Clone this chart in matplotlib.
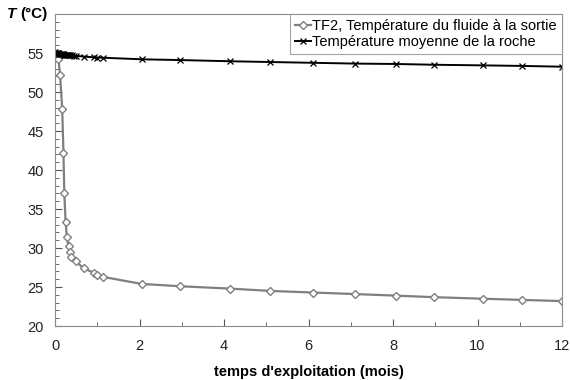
import matplotlib
matplotlib.use("Agg")
import matplotlib.pyplot as plt
from matplotlib.ticker import MultipleLocator

plt.rcParams['font.family'] = ['Liberation Sans', 'DejaVu Sans']

# fluid outlet temperature (TF2)
t_fluid = [0.0, 0.08, 0.12, 0.17, 0.20, 0.22, 0.25, 0.28, 0.32, 0.36, 0.39, 0.49,
           0.68, 0.93, 0.99, 1.14, 2.05, 2.97, 4.14, 5.10, 6.10, 7.10, 8.06,
           8.98, 10.14, 11.06, 12.0]
T_fluid = [55.0, 54.3, 52.2, 47.8, 42.2, 37.1, 33.4, 31.4, 30.2, 29.5, 28.9, 28.3,
           27.4, 26.8, 26.5, 26.3, 25.4, 25.1, 24.8, 24.5, 24.3, 24.1, 23.9,
           23.7, 23.5, 23.35, 23.2]

# mean rock temperature
t_rock = [0.0, 0.02, 0.04, 0.06, 0.08, 0.10, 0.12, 0.14, 0.16, 0.18, 0.20, 0.22,
          0.24, 0.26, 0.28, 0.30, 0.33, 0.36, 0.40, 0.45, 0.50, 0.68, 0.93, 0.99,
          1.14, 2.05, 2.97, 4.14, 5.10, 6.10, 7.10, 8.06, 8.98, 10.14, 11.06, 12.0]
T_rock = [55.1, 55.05, 55.0, 54.98, 54.95, 54.93, 54.9, 54.88, 54.86, 54.84, 54.82,
          54.8, 54.78, 54.77, 54.76, 54.75, 54.73, 54.72, 54.7, 54.67, 54.65, 54.55,
          54.45, 54.43, 54.4, 54.2, 54.1, 53.95, 53.85, 53.75, 53.65, 53.6, 53.5,
          53.42, 53.35, 53.25]

fig = plt.figure(figsize=(5.7, 3.8), dpi=100)
ax = fig.add_axes([0.0965, 0.142, 0.8895, 0.821])

ax.plot(t_fluid, T_fluid, color='#7f7f7f', lw=1.6, marker='D', ms=4.5,
        mfc='white', mec='#7f7f7f', mew=1.0,
        label="TF2, Température du fluide à la sortie")
ax.plot(t_rock, T_rock, color='black', lw=1.4, marker='x', ms=4, mew=0.9,
        label="Température moyenne de la roche")

ax.set_xlim(0, 12)
ax.set_ylim(20, 60)
ax.set_yticks([20, 25, 30, 35, 40, 45, 50, 55])
ax.set_xticks([0, 2, 4, 6, 8, 10, 12])
ax.xaxis.set_minor_locator(MultipleLocator(1))
ax.yaxis.set_minor_locator(MultipleLocator(1))
ax.tick_params(which='both', direction='in', labelsize=10.5, colors='#555555',
               labelcolor='#222222')
ax.tick_params(which='major', length=5)
ax.tick_params(which='minor', length=3)
ax.tick_params(axis='x', pad=9)
ax.tick_params(axis='y', pad=8)
for s in ax.spines.values():
    s.set_color('#8c8c8c')

ax.set_xlabel("temps d'exploitation (mois)", fontsize=10.5, fontweight='bold', labelpad=9)
fig.text(0.012, 0.962, "T", fontsize=11, fontweight='bold', style='italic', va='center')
fig.text(0.036, 0.962, "(°C)", fontsize=11, fontweight='bold', va='center')

leg = ax.legend(loc='upper right', fontsize=10.5, handlelength=1.1, handletextpad=0.1,
                borderpad=0.35, labelspacing=0.15, fancybox=False,
                borderaxespad=0.0)
leg.get_frame().set_edgecolor('#8c8c8c')
leg.get_frame().set_linewidth(0.8)

fig.savefig("out.png", dpi=100)
